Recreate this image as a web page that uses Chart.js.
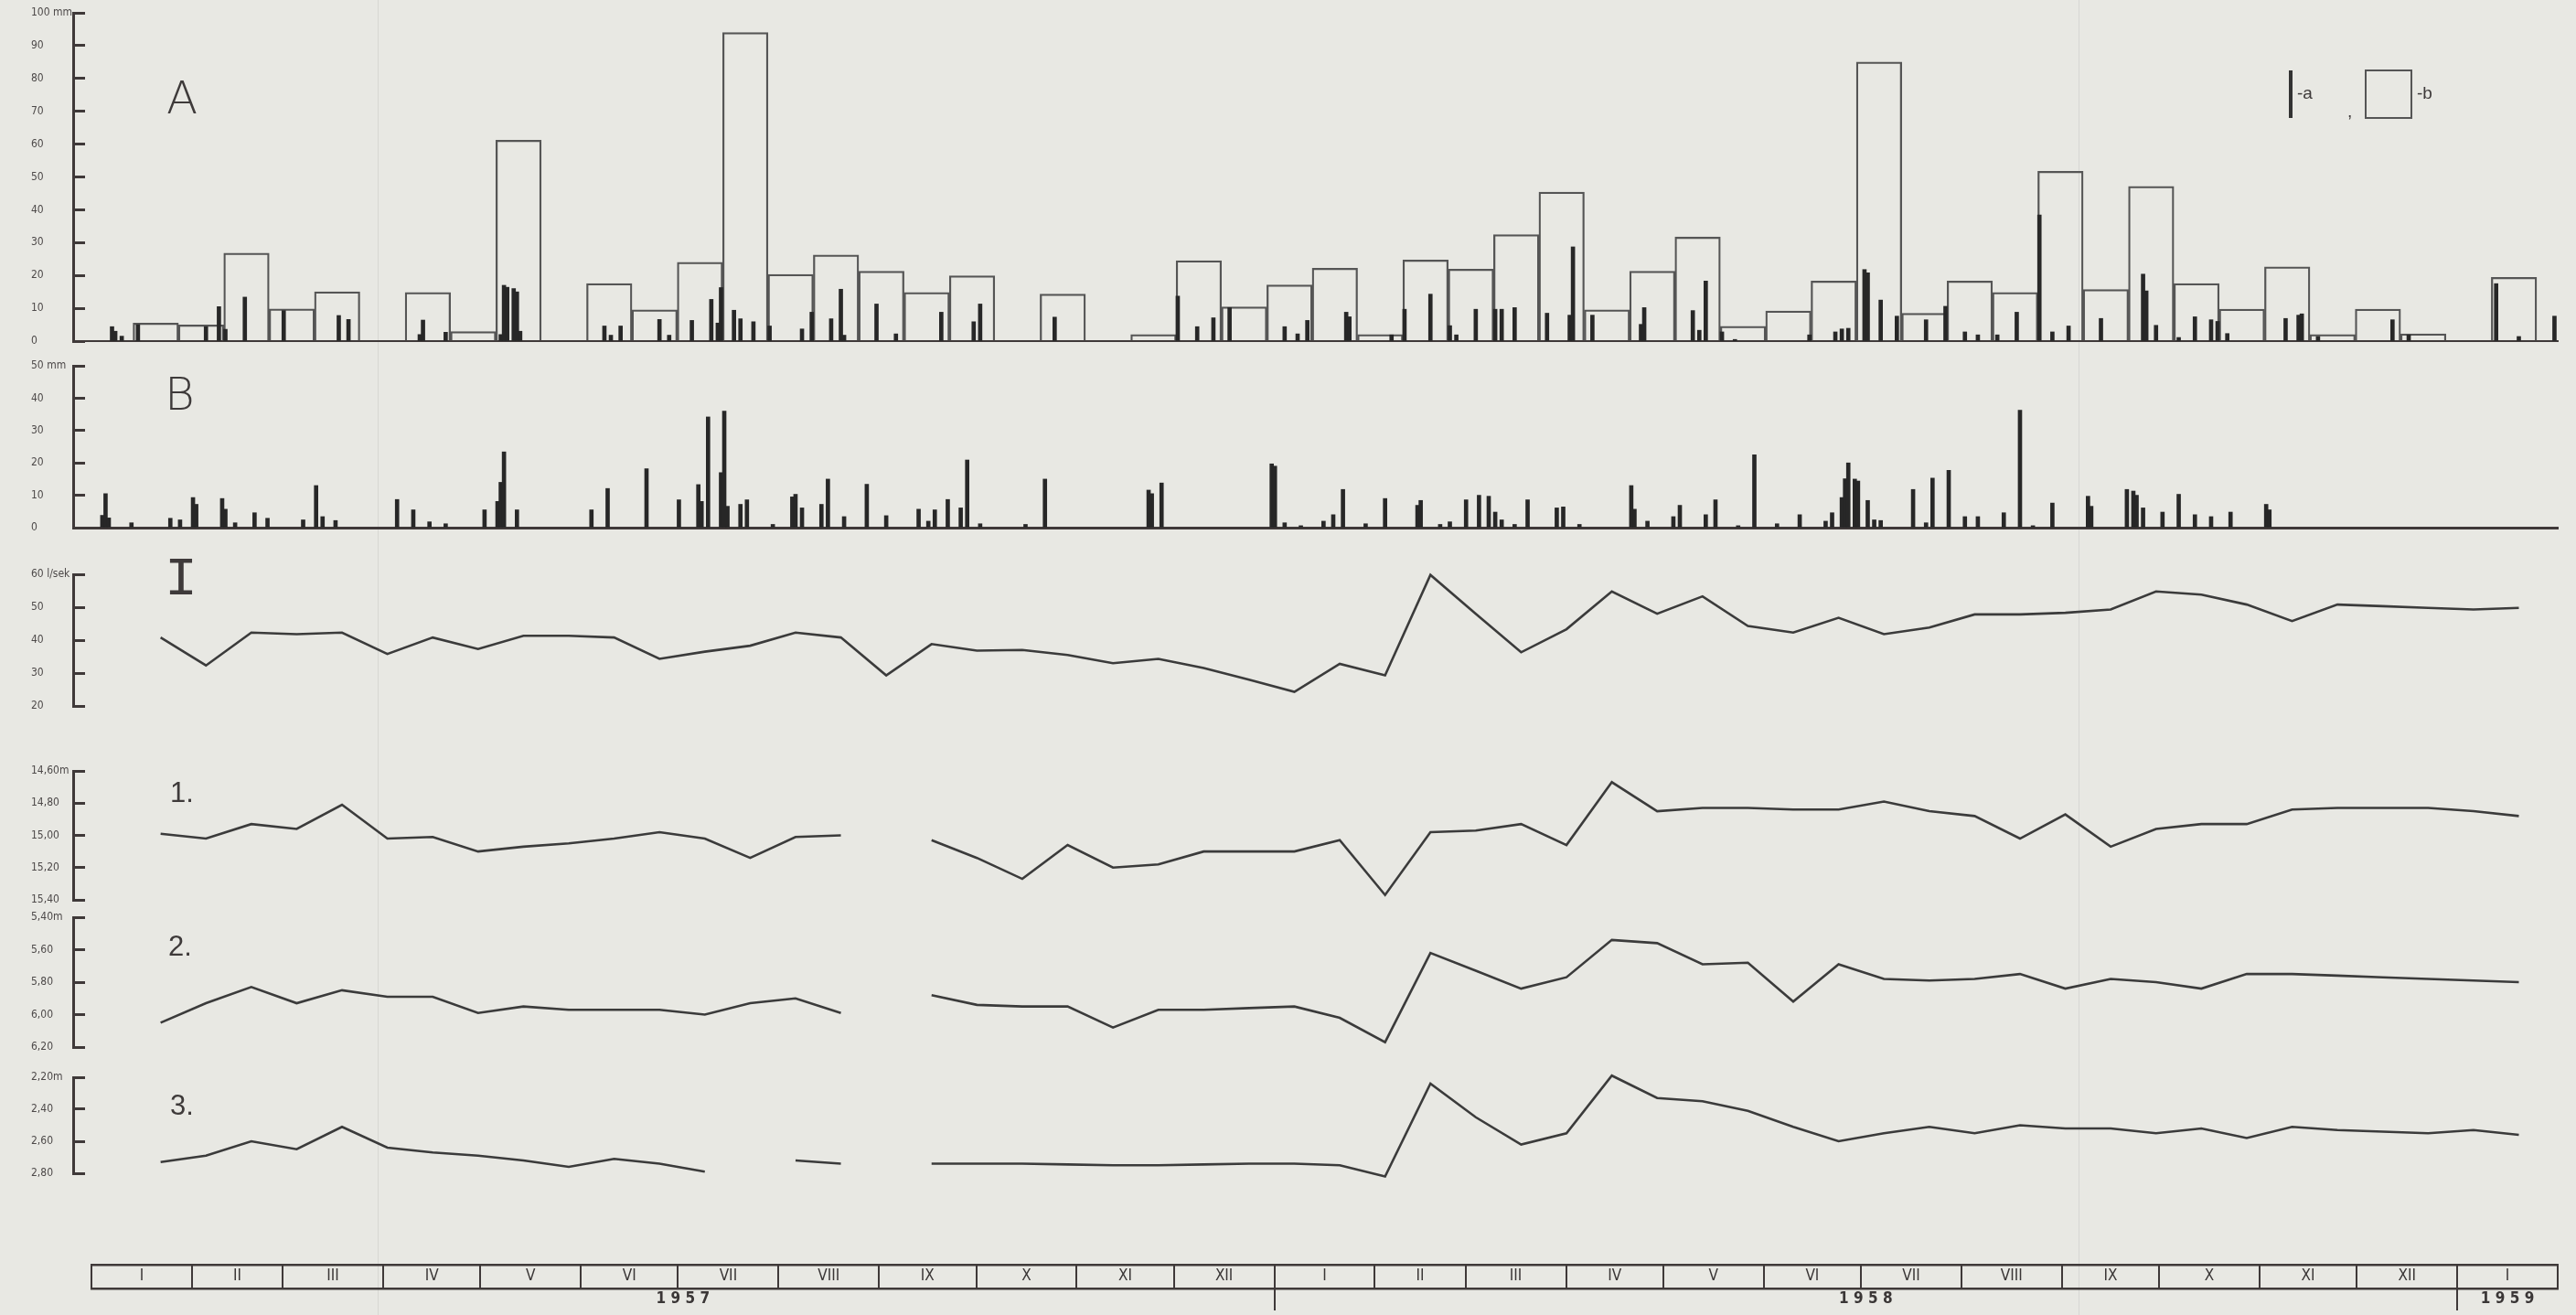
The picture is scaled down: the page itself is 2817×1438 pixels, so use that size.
<!DOCTYPE html>
<html>
<head>
<meta charset="utf-8">
<script src="https://cdn.jsdelivr.net/npm/chart.js@4/dist/chart.umd.min.js"></script>
<style>
  body { margin: 0; width: 2817px; height: 1438px; overflow: hidden; position: relative;
         background: #e8e8e3; color: #3e3a3a; font-family: 'Liberation Sans', sans-serif; }
  canvas { position: absolute; left: 0; }
  .t { position: absolute; line-height: 1; white-space: nowrap; }
  .big { font-family: 'DejaVu Sans', sans-serif; font-weight: 200; font-size: 50px; }
  .num { font-family: 'Liberation Sans', sans-serif; font-size: 31px; }
  .fold { position: absolute; top: 0; width: 1px; height: 1438px; background: rgba(0,0,0,0.07); }
</style>
</head>
<body>
<div class="fold" style="left:413px"></div>
<div class="fold" style="left:2273px"></div>

<canvas id="chartA"></canvas>
<canvas id="chartB"></canvas>
<canvas id="chartI"></canvas>
<canvas id="chart1"></canvas>
<canvas id="chart2"></canvas>
<canvas id="chart3"></canvas>
<canvas id="chartMonths"></canvas>

<div class="t big" style="left:182px;top:82px">A</div>
<div class="t big" style="left:180px;top:406px">B</div>
<div class="t" style="left:180px;top:604px;font-family:'Liberation Mono',monospace;font-size:60px">I</div>
<div class="t num" style="left:186px;top:851px">1.</div>
<div class="t num" style="left:184px;top:1019px">2.</div>
<div class="t num" style="left:186px;top:1193px">3.</div>

<!-- legend -->
<div style="position:absolute;left:2503px;top:77px;width:4px;height:52px;background:#333"></div>
<div class="t" style="left:2512px;top:92px;font-size:19px">-a</div>
<div class="t" style="left:2567px;top:112px;font-size:19px">,</div>
<div style="position:absolute;left:2586px;top:76px;width:48px;height:50px;border:2px solid #555"></div>
<div class="t" style="left:2643px;top:92px;font-size:19px">-b</div>

<script>
// days counted from 1 Jan 1957
const X_MIN = -6;
const X_MAX = 761;

// A: daily rainfall (a) and 14-day totals (b), mm
const aDays = [6, 7, 9, 14, 35, 39, 41, 47, 59, 76, 79, 101, 102, 109, 126, 127, 128, 130, 131, 132,
  158, 160, 163, 175, 178, 185, 191, 193, 194, 198, 200, 204, 209, 219, 222, 228, 231, 232, 242, 248,
  262, 272, 274, 297, 335, 341, 346, 351, 368, 372, 375, 387, 388, 401, 405, 413, 419, 421, 427, 433,
  435, 439, 449, 456, 457, 463, 478, 479, 494, 496, 498, 503, 507, 530, 538, 540, 542, 547, 548, 552,
  557, 566, 572, 578, 582, 588, 594, 601, 605, 610, 620, 633, 634, 637, 644, 649, 654, 656, 659, 677,
  681, 682, 687, 710, 715, 742, 749, 760];
const aVals = [4.4, 3, 1.5, 5, 4.4, 10.5, 3.6, 13.4, 9.3, 7.8, 6.6, 2, 6.4, 2.7, 2, 17, 16.4, 16, 15, 3,
  4.6, 1.8, 4.6, 6.6, 1.8, 6.3, 12.7, 5.5, 16.3, 9.4, 6.8, 5.9, 4.6, 3.7, 8.8, 6.8, 15.8, 1.8, 11.3, 2.2,
  8.8, 5.9, 11.3, 7.3, 13.7, 4.4, 7.1, 10.2, 4.4, 2.2, 6.3, 8.8, 7.4, 1.9, 9.7, 14.3, 4.7, 1.9, 9.7, 9.7,
  9.7, 10.2, 8.5, 7.9, 28.7, 7.9, 5.1, 10.2, 9.3, 3.3, 18.3, 2.8, 0.5, 1.9, 2.8, 3.7, 3.9, 21.8, 20.8, 12.5,
  7.6, 6.5, 10.6, 2.8, 1.9, 1.9, 8.8, 38.4, 2.8, 4.6, 6.9, 20.4, 15.3, 4.8, 1.1, 7.4, 6.5, 6, 2.3, 6.9,
  7.9, 8.3, 1.4, 6.5, 1.9, 17.5, 1.4, 7.6];

const boxDays = [19.5, 33.5, 47.5, 61.5, 75.5, 89.5, 103.5, 117.5, 131.5, 145.5, 159.5, 173.5, 187.5,
  201.5, 215.5, 229.5, 243.5, 257.5, 271.5, 285.5, 299.5, 313.5, 327.5, 341.5, 355.5, 369.5, 383.5,
  397.5, 411.5, 425.5, 439.5, 453.5, 467.5, 481.5, 495.5, 509.5, 523.5, 537.5, 551.5, 565.5, 579.5,
  593.5, 607.5, 621.5, 635.5, 649.5, 663.5, 677.5, 691.5, 705.5, 719.5, 733.5, 747.5];
const boxVals = [5.5, 4.9, 26.8, 9.8, 15, 0, 14.8, 2.9, 61.2, 0, 17.5, 9.5, 24, 94, 20.3, 26.2, 21.3,
  14.8, 19.9, 0, 14.3, 0, 2, 24.5, 10.4, 17.1, 22.2, 2, 24.7, 21.9, 32.4, 45.4, 9.5, 21.3, 31.7, 4.5,
  9.2, 18.3, 85, 8.5, 18.3, 14.8, 51.7, 15.7, 47.1, 17.5, 9.7, 22.6, 2, 9.7, 2.2, 0, 19.4];

// B: daily rainfall, mm
const bDays = [3, 4, 5, 12, 24, 27, 31, 32, 40, 41, 44, 50, 54, 65, 69, 71, 75, 94, 99, 104, 109, 121,
  125, 126, 127, 131, 154, 159, 171, 181, 187, 188, 190, 194, 195, 196, 200, 202, 210, 216, 217, 219,
  225, 227, 232, 239, 245, 255, 258, 260, 264, 268, 270, 274, 288, 294, 326, 327, 330, 364, 365, 368,
  373, 380, 383, 386, 393, 399, 409, 410, 416, 419, 424, 428, 431, 433, 435, 439, 443, 452, 454, 459,
  475, 476, 480, 488, 490, 498, 501, 508, 513, 520, 527, 535, 537, 540, 541, 542, 544, 545, 548, 550,
  552, 562, 566, 568, 573, 578, 582, 590, 595, 599, 605, 616, 617, 628, 630, 631, 633, 639, 644, 649,
  654, 660, 671, 672];
const bVals = [3.8, 10.5, 3, 1.5, 2.9, 2.4, 9.3, 7.2, 9, 5.7, 1.5, 4.6, 2.9, 2.4, 13, 3.4, 2.2, 8.7, 5.5,
  1.8, 1.2, 5.5, 8.1, 14, 23.4, 5.5, 5.5, 12.1, 18.2, 8.6, 13.3, 8.1, 34.2, 17, 36, 6.6, 7.2, 8.6, 1,
  9.5, 10.3, 6.1, 7.2, 15, 3.4, 13.4, 3.7, 5.7, 2, 5.5, 8.7, 6.1, 20.9, 1.2, 1, 15, 11.6, 10.5, 13.8,
  19.7, 19, 1.5, 0.6, 2, 4, 11.8, 1.2, 9, 6.9, 8.4, 1, 1.8, 8.6, 10, 9.7, 4.8, 2.4, 1, 8.6, 6.1, 6.4, 1,
  13, 5.7, 2, 3.4, 6.9, 4, 8.6, 0.6, 22.5, 1.2, 4, 2, 4.6, 9.3, 15.1, 20, 15, 14.4, 8.4, 2.4, 2.2, 11.8,
  1.5, 15.3, 17.7, 3.4, 3.4, 4.6, 36.3, 0.6, 7.6, 9.7, 6.6, 11.8, 11.3, 10, 6.1, 4.8, 10.3, 4, 3.4, 4.8,
  7.2, 5.5];

// fortnightly readings: I discharge (l/sek), 1-3 water depth (m)
const lineDays = [21, 35, 49, 63, 77, 91, 105, 119, 133, 147, 161, 175, 189, 203, 217, 231, 245, 259,
  273, 287, 301, 315, 329, 343, 357, 371, 385, 399, 413, 427, 441, 455, 469, 483, 497, 511, 525, 539,
  553, 567, 581, 595, 609, 623, 637, 651, 665, 679, 693, 707, 721, 735, 749];
const discharge = [40.8, 32.3, 42.3, 41.8, 42.3, 35.8, 40.8, 37.3, 41.3, 41.3, 40.8, 34.3, 36.5, 38.3,
  42.3, 40.8, 29.3, 38.8, 36.8, 37, 35.5, 33, 34.3, 31.5, 28, 24.3, 32.8, 29.3, 59.8, 48, 36.3, 43.3,
  54.8, 48, 53.3, 44.3, 42.3, 46.8, 41.8, 43.8, 47.8, 47.8, 48.3, 49.3, 54.8, 53.8, 50.8, 45.8, 50.8,
  50.3, 49.8, 49.3, 49.8];
const well1 = [14.99, 15.02, 14.93, 14.96, 14.81, 15.02, 15.01, 15.10, 15.07, 15.05, 15.02, 14.98, 15.02,
  15.14, 15.01, 15.00, null, 15.03, 15.14, 15.27, 15.06, 15.20, 15.18, 15.10, 15.10, 15.10, 15.03, 15.37,
  14.98, 14.97, 14.93, 15.06, 14.67, 14.85, 14.83, 14.83, 14.84, 14.84, 14.79, 14.85, 14.88, 15.02, 14.87,
  15.07, 14.96, 14.93, 14.93, 14.84, 14.83, 14.83, 14.83, 14.85, 14.88];
const well2 = [6.05, 5.93, 5.83, 5.93, 5.85, 5.89, 5.89, 5.99, 5.95, 5.97, 5.97, 5.97, 6.00, 5.93, 5.90,
  5.99, null, 5.88, 5.94, 5.95, 5.95, 6.08, 5.97, 5.97, 5.96, 5.95, 6.02, 6.17, 5.62, 5.73, 5.84, 5.77,
  5.54, 5.56, 5.69, 5.68, 5.92, 5.69, 5.78, 5.79, 5.78, 5.75, 5.84, 5.78, 5.80, 5.84, 5.75, 5.75, 5.76,
  5.77, 5.78, 5.79, 5.80];
const well3 = [2.73, 2.69, 2.60, 2.65, 2.51, 2.64, 2.67, 2.69, 2.72, 2.76, 2.71, 2.74, 2.79, null, 2.72,
  2.74, null, 2.74, 2.74, 2.74, 2.745, 2.75, 2.75, 2.745, 2.74, 2.74, 2.75, 2.82, 2.24, 2.45, 2.62, 2.55,
  2.19, 2.33, 2.35, 2.41, 2.51, 2.60, 2.55, 2.51, 2.55, 2.50, 2.52, 2.52, 2.55, 2.52, 2.58, 2.51, 2.53,
  2.54, 2.55, 2.53, 2.56];

// month strip
const monthLengths = [31, 28, 31, 30, 31, 30, 31, 31, 30, 31, 30, 31, 31, 28, 31, 30, 31, 30, 31, 31, 30, 31, 30, 31, 31];
const monthNames = ['I', 'II', 'III', 'IV', 'V', 'VI', 'VII', 'VIII', 'IX', 'X', 'XI', 'XII',
  'I', 'II', 'III', 'IV', 'V', 'VI', 'VII', 'VIII', 'IX', 'X', 'XI', 'XII', 'I'];
const yearNames = ['1 9 5 7', '1 9 5 8', '1 9 5 9'];
const yearStarts = [0, 365, 730, 761];

const FONT = "'Liberation Sans Narrow', 'DejaVu Sans Condensed', 'Liberation Sans', sans-serif";
const INK = '#3f3939';
const LINE = '#3b3b3b';

Chart.defaults.animation = false;
Chart.defaults.plugins.legend.display = false;
Chart.defaults.plugins.tooltip.enabled = false;
Chart.defaults.font.family = FONT;
Chart.defaults.color = '#4d4949';

const PAD = 12;

function placeCanvas(id, areaTop, areaBottom, extraBottom) {
  const c = document.getElementById(id);
  c.width = 2817;
  c.height = areaBottom - areaTop + 2 * PAD + (extraBottom || 0);
  c.style.top = (areaTop - PAD) + 'px';
  return c;
}

function comma(v, digits) {
  return v.toFixed(digits).replace('.', ',');
}

function yAxis(min, max, step, label, reverse) {
  return {
    type: 'linear', position: 'left', min: min, max: max, reverse: !!reverse,
    afterFit: (s) => { s.width = 46; },
    border: { display: true, color: INK, width: 3 },
    grid: { display: true, drawOnChartArea: false, drawTicks: true, tickLength: -13, tickWidth: 3, color: INK },
    ticks: { stepSize: step, crossAlign: 'far', color: '#4d4949', font: { size: 12 }, callback: label }
  };
}

// only the two range ends as ticks, so bar widths follow the data spacing
const endTicks = (s) => { s.ticks = [{ value: s.min }, { value: s.max }]; };

const xHidden = { type: 'linear', min: X_MIN, max: X_MAX, offset: false, display: false, afterBuildTicks: endTicks };

function xBase(width) {
  return {
    type: 'linear', min: X_MIN, max: X_MAX, offset: false, afterBuildTicks: endTicks,
    grid: { display: false, drawTicks: false, offset: false },
    ticks: { display: false },
    border: { display: true, color: INK, width: width }
  };
}

const panelLayout = { padding: { top: PAD, bottom: PAD, left: 34, right: 20 } };

function points(xs, ys) {
  return xs.map((x, i) => ({ x: x, y: ys[i] }));
}

function depthLabel(top) {
  return (v) => comma(v, 2) + (Math.abs(v - top) < 1e-6 ? 'm' : '');
}

// A
new Chart(placeCanvas('chartA', 14, 373), {
  type: 'bar',
  data: {
    datasets: [
      {
        label: 'a', data: points(aDays, aVals), xAxisID: 'x',
        backgroundColor: '#272727', barThickness: 4, grouped: false, order: 1
      },
      {
        label: 'b', data: points(boxDays, boxVals), xAxisID: 'xb',
        backgroundColor: 'rgba(0,0,0,0)', borderColor: '#555', borderWidth: 1.6,
        borderSkipped: 'bottom', barPercentage: 1, categoryPercentage: 1, grouped: false, order: 2
      }
    ]
  },
  options: {
    responsive: false, layout: panelLayout,
    scales: {
      x: xBase(2),
      xb: xHidden,
      y: yAxis(0, 100, 10, (v) => v === 100 ? '100 mm' : v)
    }
  }
});

// B
new Chart(placeCanvas('chartB', 400, 577), {
  type: 'bar',
  data: {
    datasets: [{
      label: 'B', data: points(bDays, bVals),
      backgroundColor: '#272727', barThickness: 4, grouped: false
    }]
  },
  options: {
    responsive: false, layout: panelLayout,
    scales: {
      x: xBase(3),
      y: yAxis(0, 50, 10, (v) => v === 50 ? '50 mm' : v)
    }
  }
});

function lineChart(id, top, bottom, values, yOpts) {
  new Chart(placeCanvas(id, top, bottom), {
    type: 'line',
    data: {
      datasets: [{
        data: points(lineDays, values), borderColor: LINE, borderWidth: 2.6,
        pointRadius: 0, tension: 0, spanGaps: false, clip: false
      }]
    },
    options: {
      responsive: false, layout: panelLayout,
      scales: { x: xHidden, y: yOpts }
    }
  });
}

lineChart('chartI', 628, 772, discharge, yAxis(20, 60, 10, (v) => v === 60 ? '60 l/sek' : v));
lineChart('chart1', 843, 984, well1, yAxis(14.6, 15.4, 0.2, depthLabel(14.6), true));
lineChart('chart2', 1003, 1145, well2, yAxis(5.4, 6.2, 0.2, depthLabel(5.4), true));
lineChart('chart3', 1178, 1283, well3, yAxis(2.2, 2.8, 0.2, depthLabel(2.2), true));

// month strip
const monthEdges = [0];
monthLengths.forEach((n) => monthEdges.push(monthEdges[monthEdges.length - 1] + n));
const monthMids = monthLengths.map((n, i) => monthEdges[i] + n / 2);
const yearMids = yearNames.map((n, i) => (yearStarts[i] + yearStarts[i + 1]) / 2);

const stripX = (extra) => Object.assign({
  type: 'linear', position: 'bottom', offset: false,
  min: 0, max: monthEdges[monthEdges.length - 1],
  afterFit: (s) => { s.height = 0; }
}, extra);

new Chart(placeCanvas('chartMonths', 1383, 1409, 30), {
  type: 'line',
  data: { datasets: [] },
  options: {
    responsive: false,
    layout: { padding: { top: PAD, bottom: PAD, left: 100, right: 20 } },
    scales: {
      y: { display: false },
      x: stripX({
        afterBuildTicks: (s) => { s.ticks = monthEdges.map((v) => ({ value: v })); },
        grid: { drawOnChartArea: true, drawTicks: false, offset: false, color: INK, lineWidth: 2 },
        border: { display: true, color: INK, width: 2.5 },
        ticks: { display: false }
      }),
      xTop: stripX({
        position: 'top',
        grid: { display: false, drawTicks: false },
        border: { display: true, color: INK, width: 2.5 },
        ticks: { display: false }
      }),
      xm: stripX({
        afterBuildTicks: (s) => { s.ticks = monthMids.map((v) => ({ value: v })); },
        grid: { display: false, drawTicks: false },
        border: { display: false },
        ticks: { mirror: true, autoSkip: false, maxRotation: 0, minRotation: 0, padding: 3, color: '#3a3636',
          font: { size: 17 }, callback: (v, i) => monthNames[i] }
      }),
      xt: stripX({
        afterBuildTicks: (s) => { s.ticks = yearStarts.slice(1, 3).map((v) => ({ value: v })); },
        grid: { display: true, drawOnChartArea: false, drawTicks: true, tickLength: 24, offset: false, color: INK, lineWidth: 2 },
        border: { display: false },
        ticks: { display: false }
      }),
      xy: stripX({
        weight: 10,
        afterFit: (s) => { s.height = 30; },
        afterBuildTicks: (s) => { s.ticks = yearMids.map((v) => ({ value: v })); },
        grid: { display: false, drawTicks: false },
        border: { display: false },
        ticks: { autoSkip: false, maxRotation: 0, minRotation: 0, padding: 1, color: '#3a3636',
          font: { size: 17, weight: 'bold' }, callback: (v, i) => yearNames[i] }
      })
    }
  }
});
</script>
</body>
</html>
